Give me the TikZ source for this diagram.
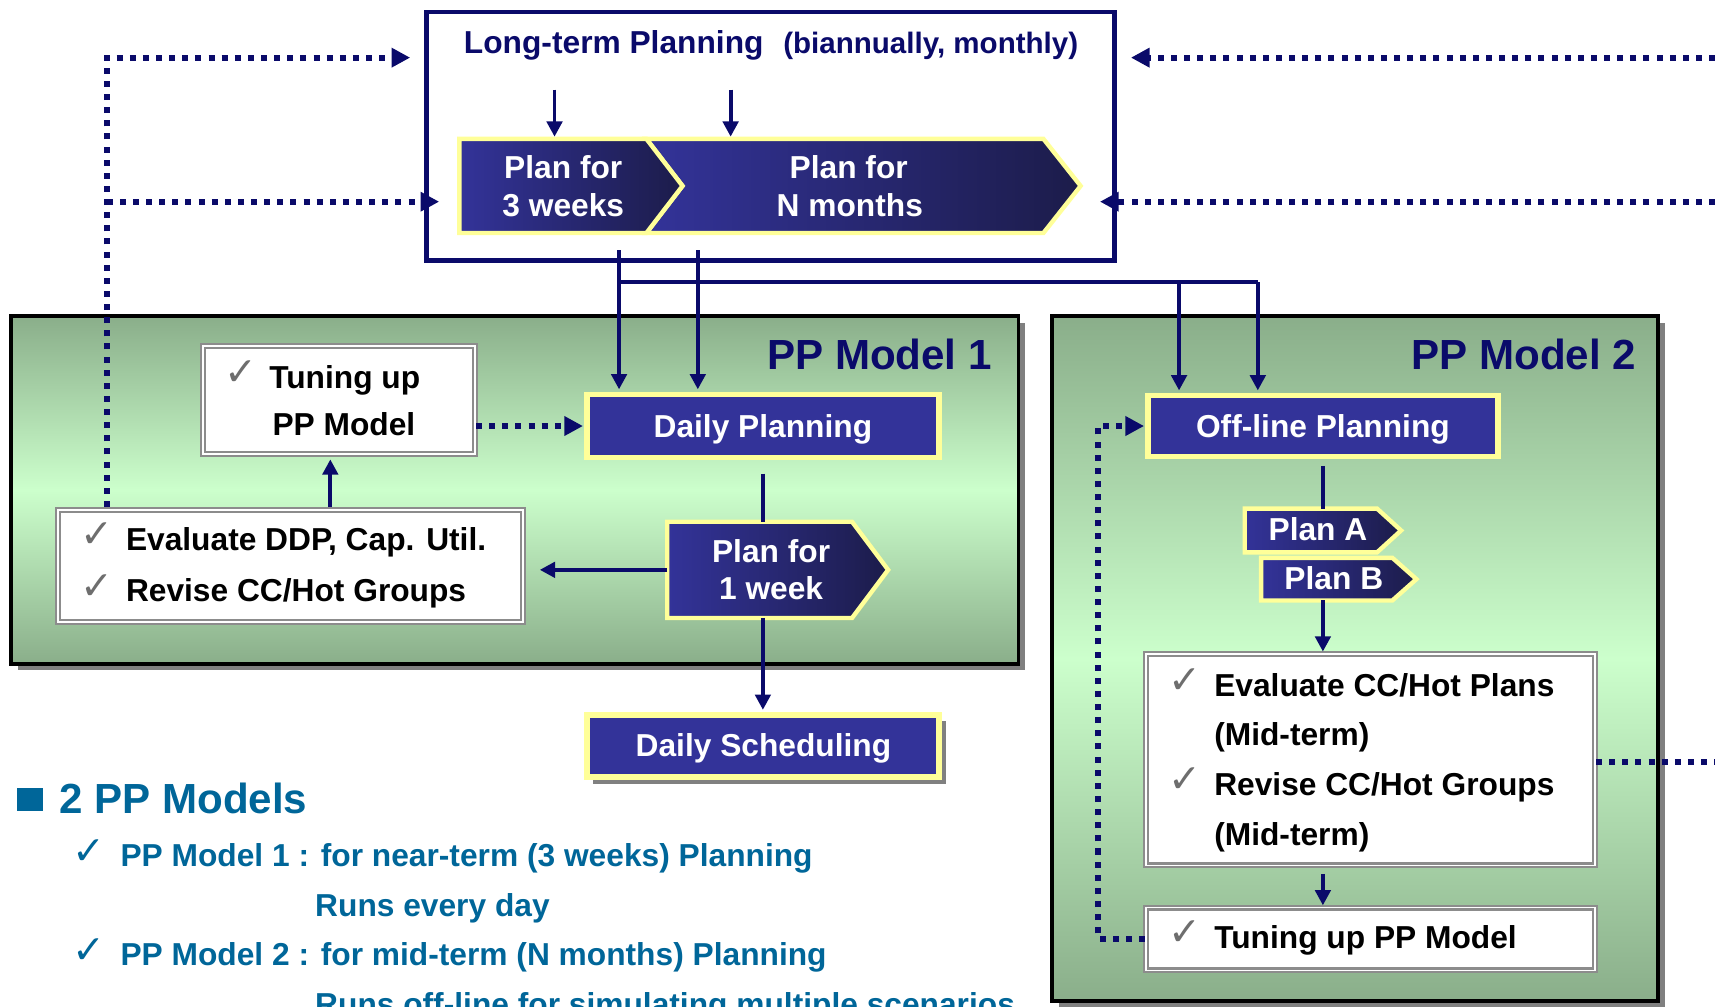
\documentclass[tikz,border=0pt]{standalone}
\usepackage{fontspec}
\setmainfont{Liberation Sans}
\newfontfamily\djv{DejaVu Sans}
\usetikzlibrary{arrows.meta,shadows}
\newcommand{\myfs}[1]{\fontsize{#1}{#1}\selectfont}
\definecolor{lnavy}{HTML}{0A0A6A}
\definecolor{boxblue}{HTML}{333399}
\definecolor{boxdark}{HTML}{1C1C4A}
\definecolor{ylw}{HTML}{FFFF99}
\definecolor{gdark}{HTML}{8AAE8A}
\definecolor{glight}{HTML}{CCFFCC}
\definecolor{txtblue}{HTML}{006699}
\definecolor{bgray}{HTML}{8C8C8C}
\definecolor{shgray}{HTML}{808080}
\definecolor{ckgray}{HTML}{6E6E6E}
\begin{document}
\begin{tikzpicture}[x=1pt,y=-1pt,
  txt/.style={inner sep=0pt, font=\myfs{29}\bfseries},
  wtxt/.style={txt, text=white},
  btxt/.style={txt, text=black, anchor=base west},
  ltxt/.style={txt, text=txtblue, anchor=base west},
  ckm/.style={inner sep=0pt, anchor=base west, font=\myfs{36}\djv, text=ckgray},
  gbox/.style={draw=black, line width=3.5pt, inner sep=0pt, top color=gdark, bottom color=gdark, middle color=glight,
     general shadow={fill=shgray, shadow xshift=6pt, shadow yshift=-6pt}},
  bbox/.style={draw=ylw, line width=5pt, fill=boxblue, inner sep=0pt},
  wbox/.style={draw=bgray, line width=2pt, double=white, double distance=1.5pt, fill=white, inner sep=0pt},
  chev/.style={draw=ylw, line width=4pt, line join=miter, left color=boxblue, right color=boxdark},
  ln/.style={draw=lnavy, line width=3.5pt},
  arr/.style={ln, -{Triangle[length=14pt,width=14pt]}},
  dots/.style={draw=lnavy, line width=5.5pt, dash pattern=on 5.5pt off 6.5pt},
  darr/.style={dots, -{Triangle[length=17pt,width=17pt]}}
]
\useasboundingbox (0,0) rectangle (1568,920);
\clip (0,0) rectangle (1568,920);

% green model boxes
\node[gbox, minimum width=921pt, minimum height=318pt] (pp1) at (470.75,448) {};
\node[gbox, minimum width=554pt, minimum height=626pt] (pp2) at (1239,602) {};
\node[txt, font=\myfs{38.5}\bfseries, text=lnavy, anchor=base east] (pp1t) at (907,338) {PP Model 1};
\node[txt, font=\myfs{38.5}\bfseries, text=lnavy, anchor=base east] (pp2t) at (1496,338) {PP Model 2};

% long-term planning box
\node[draw=lnavy, line width=4.5pt, fill=white, minimum width=629pt, minimum height=227pt, inner sep=0pt] (ltp) at (704.5,124.5) {};
\node[txt, text=lnavy, anchor=base west] (ltt) at (424,49) {Long-term Planning};
\node[txt, font=\myfs{27}\bfseries, text=lnavy, anchor=base west] (ltb) at (716,49) {(biannually, monthly)};

% chevrons in top box
\path[chev] (591,127) -- (954,127) -- (988,170) -- (954,213) -- (591,213) -- (624,170) -- cycle;
\path[chev] (420,127) -- (591,127) -- (624,170) -- (591,213) -- (420,213) -- cycle;
\node[wtxt, anchor=base] (c1a) at (515,163) {Plan for};
\node[wtxt, anchor=base] (c1b) at (515,197.5) {3 weeks};
\node[wtxt, anchor=base] (c2a) at (776,163) {Plan for};
\node[wtxt, anchor=base] (c2b) at (777,197.5) {N months};

% PP model 1 contents
\node[bbox, minimum width=322pt, minimum height=58pt] (dp) at (697.5,389.5) {};
\node[wtxt, anchor=base] (dpt) at (697.5,400) {Daily Planning};
\path[chev] (610,477) -- (779,477) -- (812,521) -- (779,565) -- (610,565) -- cycle;
\node[wtxt, anchor=base] (pwa) at (705,514) {Plan for};
\node[wtxt, anchor=base] (pwb) at (705,548.5) {1 week};
\node[wbox, minimum width=248.5pt, minimum height=99pt] (tu) at (310,365.75) {};
\node[ckm] (tuk) at (205,352) {✓};
\node[btxt] (tua) at (246,355) {Tuning up};
\node[btxt] (tub) at (249,398) {PP Model};
\node[wbox, minimum width=425pt, minimum height=102.5pt] (ev1) at (265.75,517.5) {};
\node[ckm] (e1k) at (73,501) {✓};
\node[btxt] (e1a) at (115,503) {Evaluate DDP, Cap. Util.};
\node[ckm] (e2k) at (73,548) {✓};
\node[btxt] (e1b) at (115,550) {Revise CC/Hot Groups};

% daily scheduling
\node[bbox, minimum width=322pt, minimum height=57pt, general shadow={fill=shgray, shadow xshift=6pt, shadow yshift=-6pt}] (ds) at (697.5,682) {};
\node[wtxt, anchor=base] (dst) at (698,692) {Daily Scheduling};

% PP model 2 contents
\node[bbox, minimum width=320pt, minimum height=56pt] (ol) at (1209.5,389.5) {};
\node[wtxt, anchor=base] (olt) at (1209.5,400) {Off-line Planning};
\path[chev] (1138,465) -- (1259,465) -- (1281,485) -- (1259,505) -- (1138,505) -- cycle;
\node[wtxt, anchor=base] (pat) at (1205,494.5) {Plan A};
\path[chev] (1153,510) -- (1273,510) -- (1295,529.5) -- (1273,549) -- (1153,549) -- cycle;
\node[wtxt, anchor=base] (pbt) at (1219.5,539) {Plan B};
\node[wbox, minimum width=410.5pt, minimum height=193.5pt] (ev2) at (1253,694.5) {};
\node[ckm] (e3k) at (1068,634) {✓};
\node[btxt] (e3a) at (1110,636.6) {Evaluate CC/Hot Plans};
\node[btxt] (e3b) at (1110,682) {(Mid-term)};
\node[ckm] (e4k) at (1068,724.5) {✓};
\node[btxt] (e3c) at (1110,727) {Revise CC/Hot Groups};
\node[btxt] (e3d) at (1110,772.6) {(Mid-term)};
\node[wbox, minimum width=410.5pt, minimum height=57.5pt] (tu2) at (1253,858.5) {};
\node[ckm] (t2k) at (1068,864.5) {✓};
\node[btxt] (t2a) at (1110,867) {Tuning up PP Model};

% connectors: top box
\coordinate (s1) at (507,82);
\coordinate (s2) at (668,82);
\coordinate (ch1n) at (507,125);
\coordinate (ch2n) at (668,125);
\draw[arr] (s1) -- (ch1n);
\draw[arr] (s2) -- (ch2n);
\coordinate (o1) at (566,229);
\coordinate (o2) at (638,229);
\coordinate (bus) at (566,258);
\coordinate (bus2) at (1150,258);
\draw[arr, shorten >=2pt] (o1) -- (o1 |- dp.north);
\draw[arr, shorten >=2pt] (o2) -- (o2 |- dp.north);
\draw[ln] (bus) -- (bus2);
\draw[arr, shorten >=2pt] (bus2) -- (bus2 |- ol.north);
\draw[arr, shorten >=2pt] (1078,258) coordinate (bus3) -- (bus3 |- ol.north);

% connectors: PP model 1
\coordinate (dpb) at (697.5,433);
\draw[ln] (dpb) -- (697.5,477) coordinate (pwn);
\draw[arr, shorten >=2pt] (697.5,565) coordinate (pws) -- (pws |- ds.north);
\draw[arr] (610,521) coordinate (pww) -- (493.5,521) coordinate (ev1e);
\draw[arr] (302,463.5) coordinate (ev1n) -- (302,420) coordinate (tus);
\draw[darr] (tu.east |- dp.west) -- ([xshift=-1pt]dp.west);

% dotted feedback lines, left
\coordinate (lv) at (97.5,463.5);
\coordinate (lt1) at (375,52.7);
\coordinate (lt2) at (401.5,184.4);
\draw[darr] (lv) -- (lv |- lt1) -- (lt1);
\draw[darr] (lv |- lt2) -- (lt2);

% dotted feedback lines, right
\coordinate (rt1) at (1034,52.7);
\coordinate (rt2) at (1005.7,184.4);
\draw[darr] (1580,52.7) coordinate (re1) -- (rt1);
\draw[darr] (1580,184.4) coordinate (re2) -- (rt2);
\draw[dots] (ev2.east |- 0,696.4) -- (1580,696.4) coordinate (re3);

% connectors: PP model 2
\draw[ln] (1209.5,426) coordinate (olb) -- (1209.5,465) coordinate (pan);
\draw[arr, shorten >=1pt] (1209.5,549) coordinate (pbs) -- (pbs |- ev2.north);
\draw[arr, shorten >=1pt] (1209.5,799) coordinate (ev2s) -- (ev2s |- tu2.north);
\draw[darr] (tu2.west) -- (1004,858.5) -- (1004,389.5) -- ([xshift=-1pt]ol.west);

% notes at the bottom
\node[fill=txtblue, minimum width=24.5pt, minimum height=21pt, inner sep=0pt] (bul) at (27.5,731) {};
\node[txt, font=\myfs{38.5}\bfseries, text=txtblue, anchor=base west] (hd) at (54,743.5) {2 PP Models};
\node[ckm, text=txtblue] (n1k) at (66,790) {✓};
\node[ltxt] (n1) at (110,792.5) {PP Model 1 : for near-term (3 weeks) Planning};
\node[ltxt] (n1b) at (288,838) {Runs every day};
\node[ckm, text=txtblue] (n2k) at (66,880.5) {✓};
\node[ltxt] (n2) at (110,882.5) {PP Model 2 : for mid-term (N months) Planning};
\node[ltxt] (n2b) at (288,928.5) {Runs off-line for simulating multiple scenarios};
\end{tikzpicture}
\end{document}
